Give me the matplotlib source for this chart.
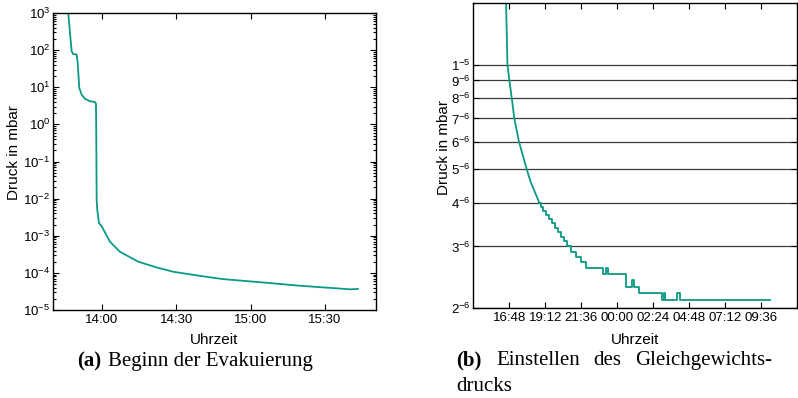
import matplotlib
matplotlib.use("Agg")
import matplotlib.pyplot as plt
import pandas as pd
from matplotlib.ticker import NullLocator, LogLocator

plt.rcParams["font.family"] = ["Liberation Sans", "DejaVu Sans"]
plt.rcParams["mathtext.fontset"] = "custom"
plt.rcParams["mathtext.rm"] = "Liberation Sans"
plt.rcParams["mathtext.it"] = "Liberation Sans:italic"
plt.rcParams["mathtext.bf"] = "Liberation Sans:bold"

# (a) Beginn der Evakuierung
evak_zeit = [
    "13:46:24", "13:46:32", "13:47:13", "13:47:55", "13:48:33", "13:49:55",
    "13:50:20", "13:50:58", "13:51:56", "13:53:16", "13:55:17", "13:57:18",
    "13:57:42", "13:57:49", "13:57:59", "13:58:14", "13:58:55", "14:00:00",
    "14:03:21", "14:07:23", "14:14:45", "14:22:10", "14:28:52", "14:39:37",
    "14:48:53", "15:06:36", "15:19:54", "15:33:12", "15:40:06", "15:43:18",
]
evak_druck = [
    1200, 1000, 290, 92, 78, 76,
    45, 9.6, 6.3, 4.9, 4.2, 4.0,
    3.6, 0.59, 0.009, 0.0049, 0.0022, 0.0018,
    6.9e-4, 3.7e-4, 2.0e-4, 1.4e-4, 1.07e-4, 8.3e-5,
    6.8e-5, 5.4e-5, 4.5e-5, 3.9e-5, 3.6e-5, 3.7e-5,
]
evak_xticks = ["14:00", "14:30", "15:00", "15:30"]
evak_yticks = [1e-5, 1e-4, 1e-3, 1e-2, 1e-1, 1e0, 1e1, 1e2, 1e3]
evak_yticklabels = [r"10$^{-5}$", r"10$^{-4}$", r"10$^{-3}$", r"10$^{-2}$",
                    r"10$^{-1}$", r"10$^{0}$", r"10$^{1}$", r"10$^{2}$", r"10$^{3}$"]

# (b) Einstellen des Gleichgewichtsdrucks - smooth start
gg_zeit = [
    "16:33:00", "16:35:24", "16:40:48", "16:48:36", "16:58:12", "17:08:24",
    "17:27:00", "17:58:12", "18:13:48", "18:49:00",
]
gg_druck = [1.7e-5, 1.5e-5, 1.0e-5, 9e-6, 8e-6, 7e-6, 6e-6, 5e-6, 4.6e-6, 4.0e-6]

# quantised part of the gauge reading (time of change, new level)
stufen_zeit = [
    "18:49:00", "18:55:00", "19:03:00", "19:15:00", "19:27:00", "19:39:00",
    "19:50:00", "20:02:00", "20:14:00", "20:26:00", "20:38:00", "20:55:00",
    "21:14:00", "21:34:00", "21:54:00", "23:02:00", "23:17:00", "23:22:00",
    "1 days 00:34:00", "1 days 01:01:00", "1 days 01:07:00", "1 days 01:29:00",
    "1 days 03:01:00", "1 days 03:07:00", "1 days 03:11:00", "1 days 03:59:00",
    "1 days 04:13:00", "1 days 10:14:00",
]
stufen_druck = [
    4.0e-6, 3.9e-6, 3.8e-6, 3.7e-6, 3.6e-6, 3.5e-6,
    3.4e-6, 3.3e-6, 3.2e-6, 3.1e-6, 3.0e-6, 2.9e-6,
    2.8e-6, 2.7e-6, 2.6e-6, 2.5e-6, 2.6e-6, 2.5e-6,
    2.3e-6, 2.4e-6, 2.3e-6, 2.2e-6,
    2.1e-6, 2.2e-6, 2.1e-6, 2.2e-6,
    2.1e-6, 2.1e-6,
]
gg_xticks = ["16:48", "19:12", "21:36", "00:00", "02:24", "04:48", "07:12", "09:36"]
gg_xtick_stunden = [16.8, 19.2, 21.6, 24.0, 26.4, 28.8, 31.2, 33.6]
gg_yticks = [2e-6, 3e-6, 4e-6, 5e-6, 6e-6, 7e-6, 8e-6, 9e-6, 1e-5]
gg_yticklabels = [r"2$^{-6}$", r"3$^{-6}$", r"4$^{-6}$", r"5$^{-6}$", r"6$^{-6}$",
                  r"7$^{-6}$", r"8$^{-6}$", r"9$^{-6}$", r"1$^{-5}$"]


def to_hours(values):
    return pd.to_timedelta(pd.Series(values)).dt.total_seconds() / 3600.0


LINE = "#0a9a85"
W, H = 798, 398

fig = plt.figure(figsize=(W / 100, H / 100), dpi=100)


def px_axes(x0, y0, x1, y1):
    return fig.add_axes([x0 / W, 1 - y1 / H, (x1 - x0) / W, (y1 - y0) / H])


def style(ax):
    for sp in ax.spines.values():
        sp.set_linewidth(1.0)
    ax.tick_params(which="both", direction="in", top=True, right=True,
                   labelsize=9.5, width=0.8)
    ax.tick_params(which="major", length=4)
    ax.tick_params(which="minor", length=2)
    ax.tick_params(axis="x", pad=3)
    ax.tick_params(axis="y", pad=2)


# left panel
ax1 = px_axes(53, 13, 376, 310)
ax1.plot(to_hours(evak_zeit), evak_druck, color=LINE, lw=1.3)
ax1.set_yscale("log")
ax1.set_ylim(1e-5, 1e3)
ax1.set_yticks(evak_yticks)
ax1.set_yticklabels(evak_yticklabels)
ax1.yaxis.set_minor_locator(LogLocator(base=10, subs=range(2, 10), numticks=20))
ax1.set_xlim(13.673, 15.843)
ax1.set_xticks(to_hours([t + ":00" for t in evak_xticks]))
ax1.set_xticklabels(evak_xticks)
style(ax1)
ax1.set_xlabel("Uhrzeit", fontsize=11)
ax1.set_ylabel("Druck in mbar", fontsize=11)
ax1.xaxis.set_label_coords(0.5, -0.077)
ax1.yaxis.set_label_coords(-0.10, 0.53)

# right panel
ax2 = px_axes(473.3, 3.3, 796.7, 307.7)
ax2.set_yscale("log")
ax2.set_ylim(2e-6, 1.5e-5)
ax2.set_yticks(gg_yticks)
ax2.set_yticklabels(gg_yticklabels)
ax2.yaxis.set_minor_locator(NullLocator())
ax2.grid(True, axis="y", color="#3a3a3a", lw=0.9)
ax2.set_axisbelow(True)
ax2.plot(to_hours(gg_zeit), gg_druck, color=LINE, lw=1.3)
ax2.plot(to_hours(stufen_zeit), stufen_druck, color=LINE, lw=1.3,
         drawstyle="steps-post")
ax2.set_xlim(14.4, 36.0)
ax2.set_xticks(gg_xtick_stunden)
ax2.set_xticklabels(gg_xticks)
style(ax2)
ax2.set_xlabel("Uhrzeit", fontsize=11)
ax2.set_ylabel("Druck in mbar", fontsize=11)
ax2.xaxis.set_label_coords(0.5, -0.083)
ax2.yaxis.set_label_coords(-0.07, 0.525)

# captions
serif = ["Liberation Serif", "DejaVu Serif"]
cap = 15


def cap_text(x, y, s, bold=False):
    fig.text(x / W, 1 - y / H, s, family=serif, fontsize=cap, ha="left",
             va="baseline", weight="bold" if bold else "normal")


cap_text(77, 366, "(a)", bold=True)
cap_text(108, 366, "Beginn der Evakuierung")
cap_text(456, 365, "(b)", bold=True)
cap_text(496, 365, "Einstellen")
cap_text(593, 365, "des")
cap_text(635, 365, "Gleichgewichts-")
cap_text(456, 391, "drucks")

fig.savefig("out.png", dpi=100)
